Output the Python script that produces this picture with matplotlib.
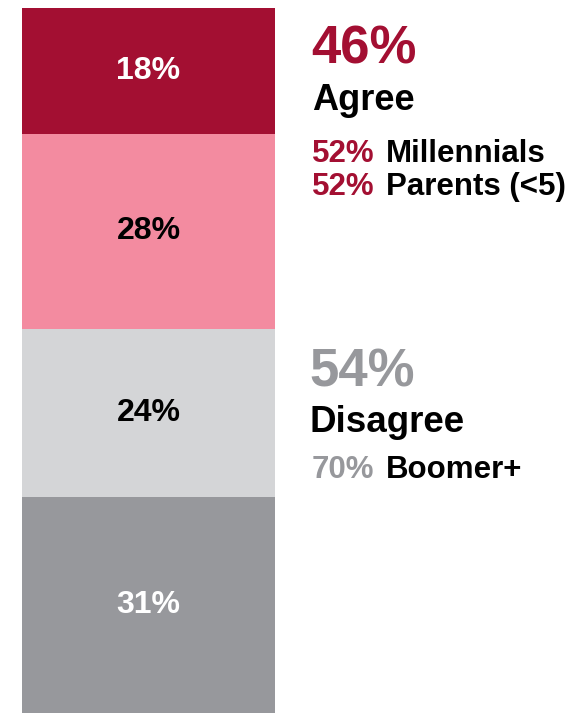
import matplotlib.pyplot as plt

plt.rcParams['font.family'] = ['Liberation Sans', 'DejaVu Sans']
plt.rcParams['font.weight'] = 'bold'

# stacked segments, bottom to top
segments = ['Strongly disagree', 'Disagree', 'Agree', 'Strongly agree']
values = [31, 24, 28, 18]
colors = ['#97989c', '#d4d5d7', '#f38ba0', '#a30f32']
label_colors = ['white', 'black', 'black', 'white']

agree_total = '46%'
disagree_total = '54%'
agree_subs = [('52%', 'Millennials'), ('52%', 'Parents (<5)')]
disagree_subs = [('70%', 'Boomer+')]

RED = '#a30f32'
GRAY = '#97989c'

W, H = 586, 713
fig = plt.figure(figsize=(W / 100, H / 100), dpi=100)
ax = fig.add_axes([22 / W, 0, 253 / W, 705 / H])

bottom = 0
for v, c, lc in zip(values, colors, label_colors):
    ax.bar(0, v, width=1, bottom=bottom, color=c, edgecolor='none')
    ax.text(0, bottom + v / 2, f'{v}%', ha='center', va='center',
            color=lc, fontsize=23, fontweight='bold')
    bottom += v

ax.set_xlim(-0.5, 0.5)
ax.set_ylim(0, sum(values))
ax.axis('off')


def ftext(x, y, s, **kw):
    # x, y in pixels from the top-left corner
    fig.text(x / W, 1 - y / H, s, va='baseline', ha='left',
             fontweight='bold', **kw)


ftext(311, 63, agree_total, fontsize=38, color=RED)
ftext(312, 110, 'Agree', fontsize=26, color='black')
for i, (pct, name) in enumerate(agree_subs):
    y = 162 + i * 33
    ftext(312, y, pct, fontsize=22.5, color=RED)
    ftext(386, y, name, fontsize=22.5, color='black')

ftext(309, 387, disagree_total, fontsize=38, color=GRAY)
ftext(310, 432, 'Disagree', fontsize=26.5, color='black')
for i, (pct, name) in enumerate(disagree_subs):
    y = 478 + i * 33
    ftext(312, y, pct, fontsize=22.5, color=GRAY)
    ftext(386, y, name, fontsize=22.5, color='black')

fig.savefig('out.png', dpi=100, facecolor='white')
